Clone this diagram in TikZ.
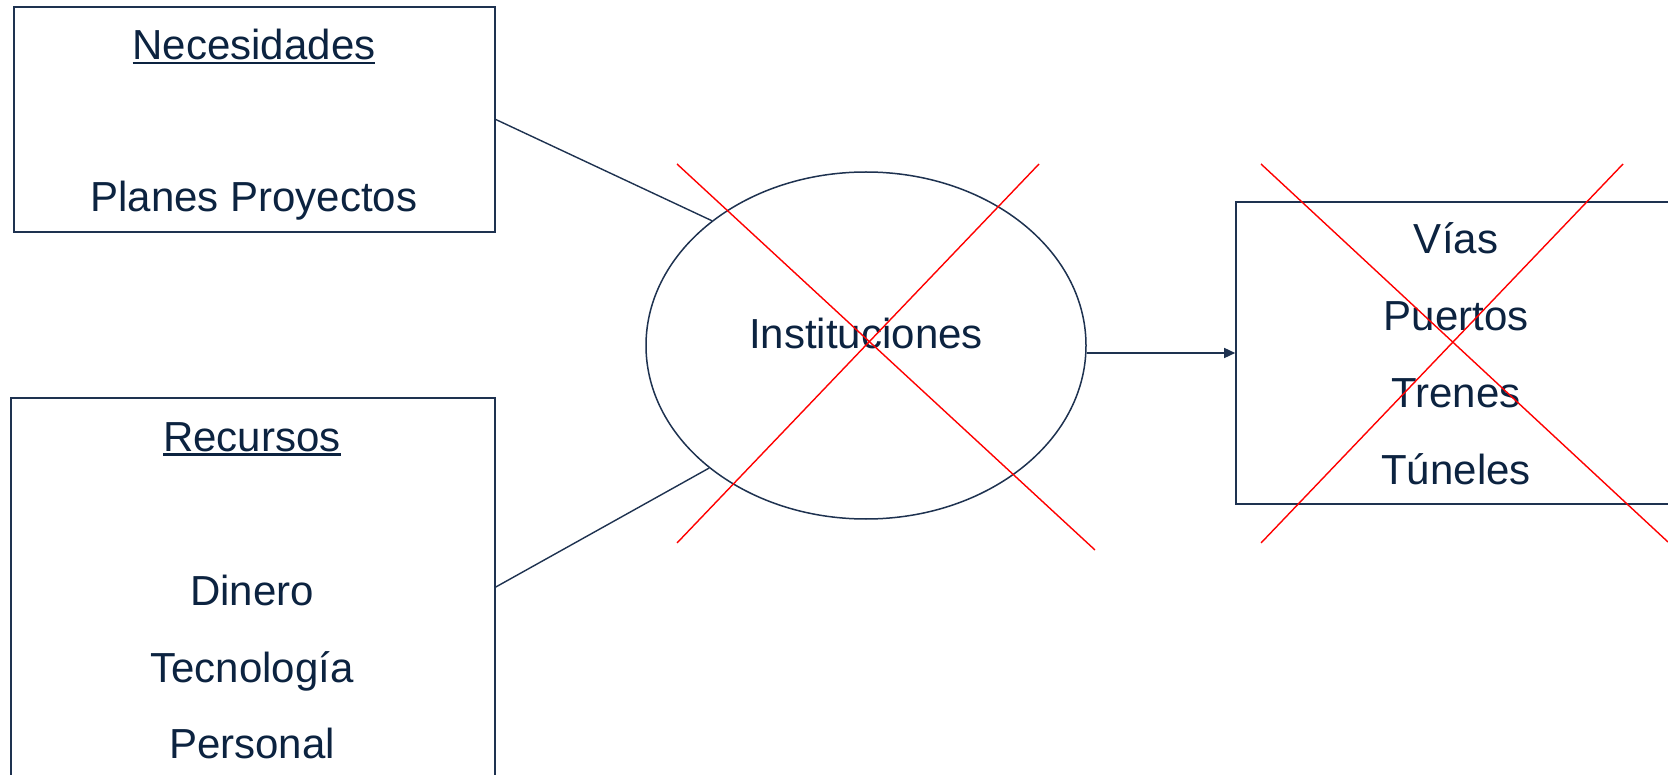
\documentclass[tikz,border=0pt]{standalone}
\usepackage{fontspec}
\setmainfont{Liberation Sans}
\usetikzlibrary{shapes.geometric,arrows.meta}
\definecolor{navy}{RGB}{12,35,64}
\definecolor{edgec}{RGB}{30,50,80}
\newcommand\myul[1]{\setbox0\hbox{#1}\rlap{\rule[-4.5pt]{\wd0}{2.2pt}}\box0}
\begin{document}
\begin{tikzpicture}[x=1pt,y=-1pt,
  box/.style={draw=edgec,line width=1.6pt,rectangle,inner sep=0pt},
  txt/.style={font=\fontsize{42}{50}\selectfont,text=navy,anchor=base,inner sep=0pt},
  conn/.style={draw=edgec,line width=1.4pt},
  redx/.style={draw=red,line width=1.4pt}]
\useasboundingbox (0,0) rectangle (1668,775);
\clip (0,0) rectangle (1668,775);
\fill[white] (0,0) rectangle (1668,775);
% boxes
\node[box,minimum width=481pt,minimum height=225pt] (nec) at (254.5,119.5) {};
\node[box,minimum width=484pt,minimum height=378pt] (rec) at (253,587) {};
\node[draw=edgec,line width=1.5pt,ellipse,minimum width=440pt,minimum height=347pt,inner sep=0pt] (inst) at (866,345.5) {};
\node[box,minimum width=484pt,minimum height=302pt] (out) at (1478,353) {};
% texts
\node[txt] (necT) at (254,60) {\myul{Necesidades}};
\node[txt] (plan) at (254,212) {Planes Proyectos};
\node[txt] (recT) at (252,451) {\myul{Recursos}};
\node[txt] (din) at (252,605) {Dinero};
\node[txt] (tec) at (252,682) {Tecnología};
\node[txt] (per) at (252,758) {Personal};
\node[txt] (instT) at (866,349) {Instituciones};
\node[txt] (vias) at (1456,254) {Vías};
\node[txt] (puer) at (1456,331) {Puertos};
\node[txt] (tren) at (1456,408) {Trenes};
\node[txt] (tun) at (1456,484) {Túneles};
% connectors
\draw[conn] (nec.east) -- (inst.141.6);
\draw[conn] (rec.east) -- (inst.218.1);
\draw[conn,-{Triangle[length=11pt,width=10pt]}] (inst.east |- out.west) -- (out.west);
% red crosses
\draw[redx] (677,164) -- (1095,550);
\draw[redx] (1039,164) -- (677,543);
\draw[redx] (1261,164) -- (1668,542);
\draw[redx] (1623,164) -- (1261,543);
\end{tikzpicture}
\end{document}
